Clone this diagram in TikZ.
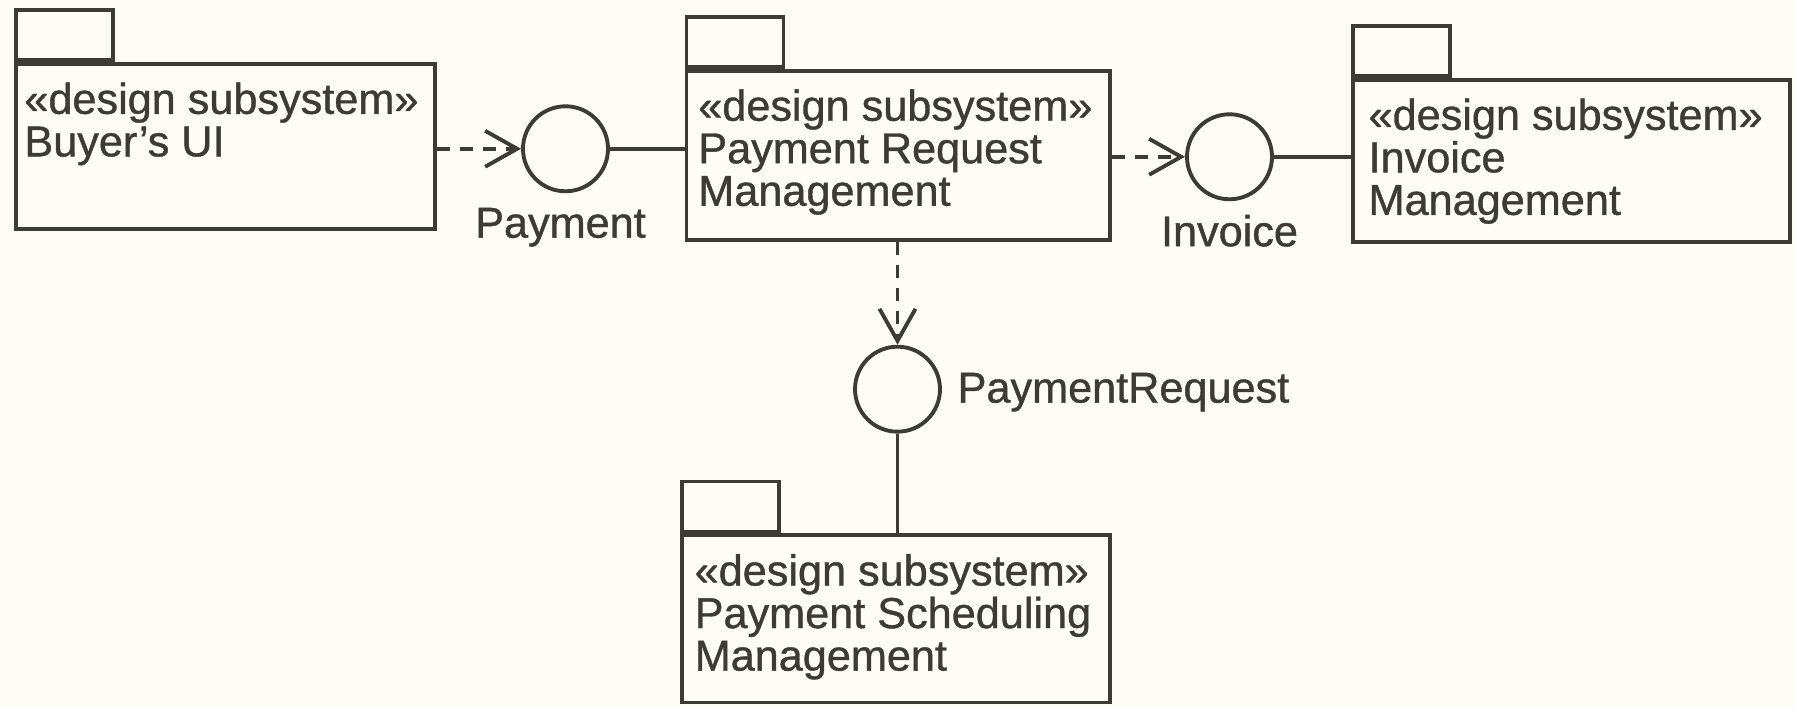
\documentclass[tikz,border=0pt]{standalone}
\usepackage{fontspec}
\setmainfont{Liberation Sans}
\newfontfamily\scanfont{Liberation Sans}[FakeBold=0.9]
\usetikzlibrary{arrows.meta,positioning,calc}
\definecolor{paper}{RGB}{253,252,246}
\definecolor{ink}{RGB}{62,58,54}
\tikzset{
  pkg/.style={draw=ink,line width=1.1pt,anchor=north west,inner sep=0pt},
  pkgtab/.style={draw=ink,line width=1.1pt,anchor=south west,inner sep=0pt,minimum width=0.97cm,minimum height=0.5cm},
  pkgtext/.style={anchor=north west,inner sep=0pt,align=left,text=ink,font=\scanfont\fontsize{12.3}{12.1}\selectfont},
  iface/.style={circle,draw=ink,line width=1.1pt,minimum size=0.85cm,inner sep=0pt},
  ilab/.style={inner sep=0pt,text=ink,font=\scanfont\fontsize{12.3}{12.1}\selectfont},
  dep/.style={-{Straight Barb[length=3.2mm,width=3.6mm]},draw=ink,line width=1.1pt,dash pattern=on 1.3mm off 1mm},
  conn/.style={draw=ink,line width=1.1pt}
}
\begin{document}
\begin{tikzpicture}[x=1cm,y=1cm]
  \useasboundingbox (0,0) rectangle (17.95,7.08);
  \fill[paper] (0,0) rectangle (17.95,7.08);
  % subsystems
  \node[pkg,minimum width=4.19cm,minimum height=1.65cm] (buyer) at (0.137,6.462) {};
  \node[pkg,minimum width=4.236cm,minimum height=1.694cm] (prm) at (6.846,6.393) {};
  \node[pkg,minimum width=4.373cm,minimum height=1.626cm] (inv) at (13.509,6.302) {};
  \node[pkg,minimum width=4.282cm,minimum height=1.671cm] (psm) at (6.80,1.745) {};
  \node[pkgtab] (buyertab) at (buyer.north west) {};
  \node[pkgtab] (prmtab) at (prm.north west) {};
  \node[pkgtab] (invtab) at (inv.north west) {};
  \node[pkgtab] (psmtab) at (psm.north west) {};
  \node[pkgtext] (buyertxt) at ($(buyer.north west)+(0.10,-0.20)$) {«design subsystem»\\Buyer’s UI};
  \node[pkgtext] (prmtxt) at ($(prm.north west)+(0.13,-0.20)$) {«design subsystem»\\Payment Request\\Management};
  \node[pkgtext] (invtxt) at ($(inv.north west)+(0.17,-0.20)$) {«design subsystem»\\Invoice\\Management};
  \node[pkgtext] (psmtxt) at ($(psm.north west)+(0.14,-0.20)$) {«design subsystem»\\Payment Scheduling\\Management};
  % interfaces
  \node[iface] (pay) at (5.655,5.592) {};
  \node[iface] (invc) at (12.295,5.512) {};
  \node[iface] (prq) at (8.975,3.188) {};
  \node[ilab,below=0.14cm of pay,xshift=-0.05cm] (paylab) {Payment};
  \node[ilab,below=0.13cm of invc] (invclab) {Invoice};
  \node[ilab,right=0.15cm of prq,yshift=-0.03cm] (prqlab) {PaymentRequest};
  % dependencies and realizations
  \draw[dep] (buyer.east |- pay) -- (pay);
  \draw[conn] (pay) -- (pay -| prm.west);
  \draw[dep] (prm.east |- invc) -- (invc);
  \draw[conn] (invc) -- (invc -| inv.west);
  \draw[dep] (prm.south -| prq) -- (prq);
  \draw[conn] (prq) -- (prq |- psm.north);
\end{tikzpicture}
\end{document}
